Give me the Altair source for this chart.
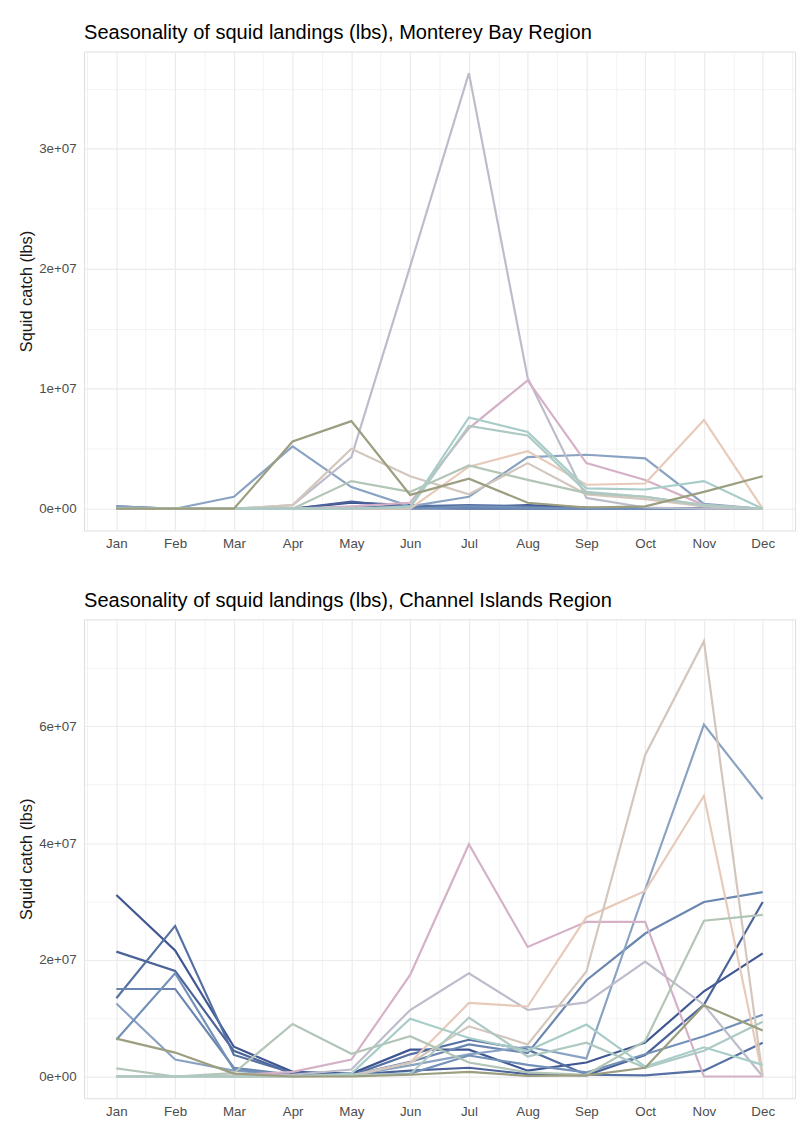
import altair as alt
import pandas as pd

months = ["Jan", "Feb", "Mar", "Apr", "May", "Jun", "Jul", "Aug", "Sep", "Oct", "Nov", "Dec"]

series = ["s01", "s02", "s03", "s04", "s05", "s06", "s07",
          "s08", "s09", "s10", "s11", "s12", "s13", "s14"]
colors = ["#3e5692", "#4b6399", "#5570a3", "#6a86b0", "#8aa3c2", "#7391b8", "#bdbcca",
          "#d5b1c8", "#e7cab9", "#d3c6bd", "#b2c5b6", "#a8cdc8", "#aec9c3", "#9c9e7f"]

# Monterey Bay Region, millions of lbs per month
monterey = {
    "s01": [0.2, 0, 0, 0, 0.5, 0.3, 0.1, 0.3, 0.1, 0, 0, 0],
    "s02": [0, 0, 0, 0, 0.6, 0.1, 0, 0, 0, 0, 0, 0],
    "s03": [0, 0, 0, 0, 0.1, 0.2, 0.3, 0.2, 0, 0, 0, 0],
    "s04": [0, 0, 0, 0, 0, 0, 0, 0, 0, 0, 0, 0],
    "s05": [0.2, 0, 1.0, 5.2, 1.8, 0.2, 1.0, 4.3, 4.5, 4.2, 0.4, 0],
    "s06": [0, 0, 0, 0, 0.1, 0, 0.2, 0.1, 0, 0, 0, 0],
    "s07": [0, 0, 0, 0.3, 4.3, 20.2, 36.3, 10.9, 0.9, 0.1, 0, 0],
    "s08": [0, 0, 0, 0, 0.2, 0.5, 6.7, 10.7, 3.8, 2.4, 0.3, 0],
    "s09": [0, 0, 0, 0, 0, 0, 3.5, 4.8, 2.0, 2.1, 7.4, 0],
    "s10": [0, 0, 0, 0.3, 5.0, 2.7, 1.2, 3.8, 1.2, 0.8, 0.2, 0],
    "s11": [0, 0, 0, 0, 2.3, 1.4, 3.6, 2.4, 1.3, 1.0, 0.3, 0],
    "s12": [0, 0, 0, 0, 0, 0.2, 7.6, 6.4, 1.7, 1.6, 2.3, 0],
    "s13": [0, 0, 0, 0, 0, 0.1, 6.9, 6.1, 1.4, 1.0, 0.3, 0],
    "s14": [0, 0, 0, 5.6, 7.3, 1.15, 2.5, 0.5, 0.1, 0.2, 1.4, 2.7],
}

# Channel Islands Region, millions of lbs per month
channel = {
    "s01": [31.1, 21.6, 5.1, 0.8, 0.5, 4.6, 4.6, 1.0, 2.4, 5.8, 14.6, 21.1],
    "s02": [21.4, 18.1, 4.4, 0.5, 0.3, 1.0, 1.5, 0.4, 0.2, 3.7, 12.3, 29.9],
    "s03": [13.4, 25.8, 3.7, 0.6, 0.2, 3.8, 6.3, 4.6, 0.3, 0.2, 1.0, 5.8],
    "s04": [15.0, 15.0, 1.5, 0.3, 0.2, 2.5, 5.5, 4.0, 16.5, 24.5, 29.9, 31.6],
    "s05": [12.5, 2.9, 1.0, 0.2, 0.2, 1.9, 3.8, 5.1, 3.1, 32.0, 60.3, 47.5],
    "s06": [6.3, 17.7, 1.2, 0.2, 0.1, 0.5, 3.6, 2.0, 0.7, 3.8, 6.9, 10.6],
    "s07": [0, 0, 0, 0.3, 1.2, 11.4, 17.7, 11.4, 12.7, 19.7, 12.3, 0],
    "s08": [0, 0, 0.2, 0.8, 2.9, 17.4, 39.8, 22.2, 26.5, 26.5, 0, 0],
    "s09": [0, 0, 0, 0, 0.1, 2.4, 12.6, 12.0, 27.3, 31.8, 48.1, 0],
    "s10": [0, 0, 0, 0, 0.2, 2.3, 8.6, 5.5, 18.0, 55.1, 74.6, 0],
    "s11": [1.4, 0, 0.6, 9.0, 3.9, 6.9, 2.4, 0.7, 0.3, 6.1, 26.7, 27.7],
    "s12": [0, 0, 0, 0, 0.5, 9.9, 6.6, 4.4, 8.9, 1.7, 5.0, 2.0],
    "s13": [0, 0, 0, 0, 0.3, 0.4, 10.1, 3.4, 5.8, 1.5, 4.4, 9.4],
    "s14": [6.5, 4.1, 0.5, 0, 0, 0.3, 0.8, 0.1, 0.2, 1.5, 12.2, 7.9],
}


def frame(table):
    rows = []
    for s in series:
        for i, v in enumerate(table[s]):
            rows.append({"series": s, "month": i + 1, "catch": v * 1e6})
    return pd.DataFrame(rows)


FONT = "Liberation Sans"
month_labels = "[" + ",".join("'" + m + "'" for m in months) + "]"


def panel(df, title, ymin, ymax, yticks, major):
    x_axis = alt.Axis(
        values=[i / 2 for i in range(1, 26)],
        labelExpr="datum.value % 1 === 0 ? " + month_labels + "[datum.value - 1] : ''",
        title=None, ticks=False, domain=False, labelPadding=6,
        labelFontSize=13.5, labelColor="#4d4d4d", labelFont=FONT,
        gridColor="#ebebeb",
        gridWidth={"condition": {"test": "datum.value % 1 === 0", "value": 1.2}, "value": 0.6},
        labelFlush=False, labelOverlap=False,
    )
    y_axis = alt.Axis(
        values=yticks,
        labelExpr="datum.value % " + str(major) + " === 0 ? (datum.value === 0 ? '0e+00' : format(datum.value / 1e7, 'd') + 'e+07') : ''",
        title="Squid catch (lbs)", titleFontSize=16.5, titleFont=FONT, titleFontWeight="normal",
        titleColor="#1a1a1a", titlePadding=4,
        ticks=False, domain=False, labelPadding=8,
        labelFontSize=13.5, labelColor="#4d4d4d", labelFont=FONT,
        gridColor="#ebebeb",
        gridWidth={"condition": {"test": "datum.value % " + str(major) + " === 0", "value": 1.2}, "value": 0.6},
        labelOverlap=False,
    )
    return alt.Chart(df).mark_line(strokeWidth=2.2, strokeJoin="miter", strokeCap="butt").encode(
        x=alt.X("month:Q", scale=alt.Scale(domain=[0.45, 12.55], nice=False, zero=False), axis=x_axis),
        y=alt.Y("catch:Q", scale=alt.Scale(domain=[ymin, ymax], nice=False, zero=False), axis=y_axis),
        color=alt.Color("series:N", scale=alt.Scale(domain=series, range=colors), legend=None),
        detail="series:N",
    ).properties(
        width=720, height=485,
        title=alt.TitleParams(title, anchor="start", frame="group", fontSize=20.3, font=FONT,
                              fontWeight="normal", color="#000000", offset=8),
    )


top = panel(frame(monterey), "Seasonality of squid landings (lbs), Monterey Bay Region",
            -1.815e6, 38.1e6, [i * 5e6 for i in range(0, 8)], 10000000)
bottom = panel(frame(channel), "Seasonality of squid landings (lbs), Channel Islands Region",
               -3.73e6, 78.33e6, [i * 1e7 for i in range(0, 8)], 20000000)

chart = alt.vconcat(top, bottom, spacing=41).properties(
    padding={"left": 10, "top": 8, "right": 0, "bottom": 5}
).configure_view(stroke=None).configure(background="white")

chart.save("out.html", embed_options={"renderer": "svg", "actions": False})
